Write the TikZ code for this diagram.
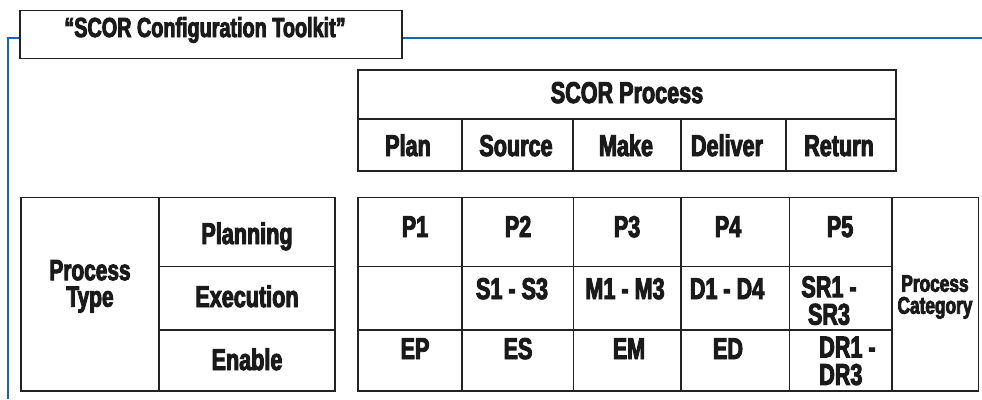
\documentclass[tikz,border=0pt]{standalone}
\usepackage{fontspec}
\newfontfamily\cnd{Liberation Sans Bold}[FakeStretch=0.72,FakeBold=3.2]
\definecolor{frameblue}{HTML}{1E64B4}
\definecolor{ink}{HTML}{222222}
\definecolor{txt}{HTML}{1A1A1A}
\tikzset{
  grid/.style={draw=ink, line width=1.6pt},
  blueline/.style={draw=frameblue, line width=2.4pt},
  titlebox/.style={draw=ink, line width=1.8pt, fill=white, inner sep=0pt, anchor=north west},
  lbl/.style={anchor=base, inner sep=0pt, text=txt, font=\cnd\fontsize{30}{30}\selectfont},
  ttl/.style={lbl, font=\cnd\fontsize{27.5}{27.5}\selectfont},
  twoline/.style={anchor=north, inner sep=0pt, text=txt, align=center},
}
\begin{document}
\begin{tikzpicture}[x=1pt,y=-1pt]
\useasboundingbox (0,0) rectangle (982,399);
\fill[white] (0,0) rectangle (982,399);
% frame and title
\node[titlebox, minimum width=382pt, minimum height=48pt] (title) at (19,9.5) {};
\node[ttl] (titletext) at (205,37) {“SCOR Configuration Toolkit”};
\coordinate (fr) at (982,38);
\coordinate (fc) at (8,38);
\coordinate (fb) at (8,399);
\draw[blueline] (title.east |- fr) -- (fr);
\draw[blueline] (title.west |- fc) -- (fc) -- (fb);
% top table
\draw[grid] (358,70) rectangle (896,171);
\draw[grid] (358,119) -- (896,119);
\foreach \x in {462,573,681,786} \draw[grid] (\x,119) -- (\x,171);
\node[lbl] (scor) at (627,103) {SCOR Process};
\node[lbl] (plan) at (408,156) {Plan};
\node[lbl] (source) at (516,156) {Source};
\node[lbl] (make) at (626,156) {Make};
\node[lbl] (deliver) at (727,156) {Deliver};
\node[lbl] (return) at (839,156) {Return};
% left table
\draw[grid] (20.7,197.5) rectangle (335,391);
\draw[grid] (159,197.5) -- (159,391);
\foreach \y in {266.5,330} \draw[grid] (159,\y) -- (335,\y);
\node[twoline, font=\cnd\fontsize{29}{26.5}\selectfont] (ptype) at (90,260) {Process\\Type};
\node[lbl] (planning) at (247,244) {Planning};
\node[lbl] (execution) at (247,307) {Execution};
\node[lbl] (enable) at (247,370) {Enable};
% right table
\draw[grid] (358,197.5) rectangle (978.3,391);
\foreach \x in {462,573.3,680.7,789.3,891.7} \draw[grid] (\x,197.5) -- (\x,391);
\foreach \y in {266.5,330} \draw[grid] (358,\y) -- (891.7,\y);
\node[lbl] (p1) at (415,237) {P1};
\node[lbl] (p2) at (518,237) {P2};
\node[lbl] (p3) at (627,237) {P3};
\node[lbl] (p4) at (728,237) {P4};
\node[lbl] (p5) at (840,237) {P5};
\node[lbl] (s) at (512,299) {S1 - S3};
\node[lbl] (m) at (625,299) {M1 - M3};
\node[lbl] (d) at (727,299) {D1 - D4};
\node[twoline, font=\cnd\fontsize{30}{27.5}\selectfont] (sr) at (829,276) {SR1 -\\SR3};
\node[lbl] (ep) at (415,359) {EP};
\node[lbl] (es) at (518,359) {ES};
\node[lbl] (em) at (629,359) {EM};
\node[lbl] (ed) at (728,359) {ED};
\node[twoline, align=left, anchor=north west, font=\cnd\fontsize{30}{27.5}\selectfont] (dr) at (819,336.5) {DR1 -\\DR3};
\node[twoline, font=\cnd\fontsize{24}{22}\selectfont] (pcat) at (935,275) {Process\\Category};
\end{tikzpicture}
\end{document}
